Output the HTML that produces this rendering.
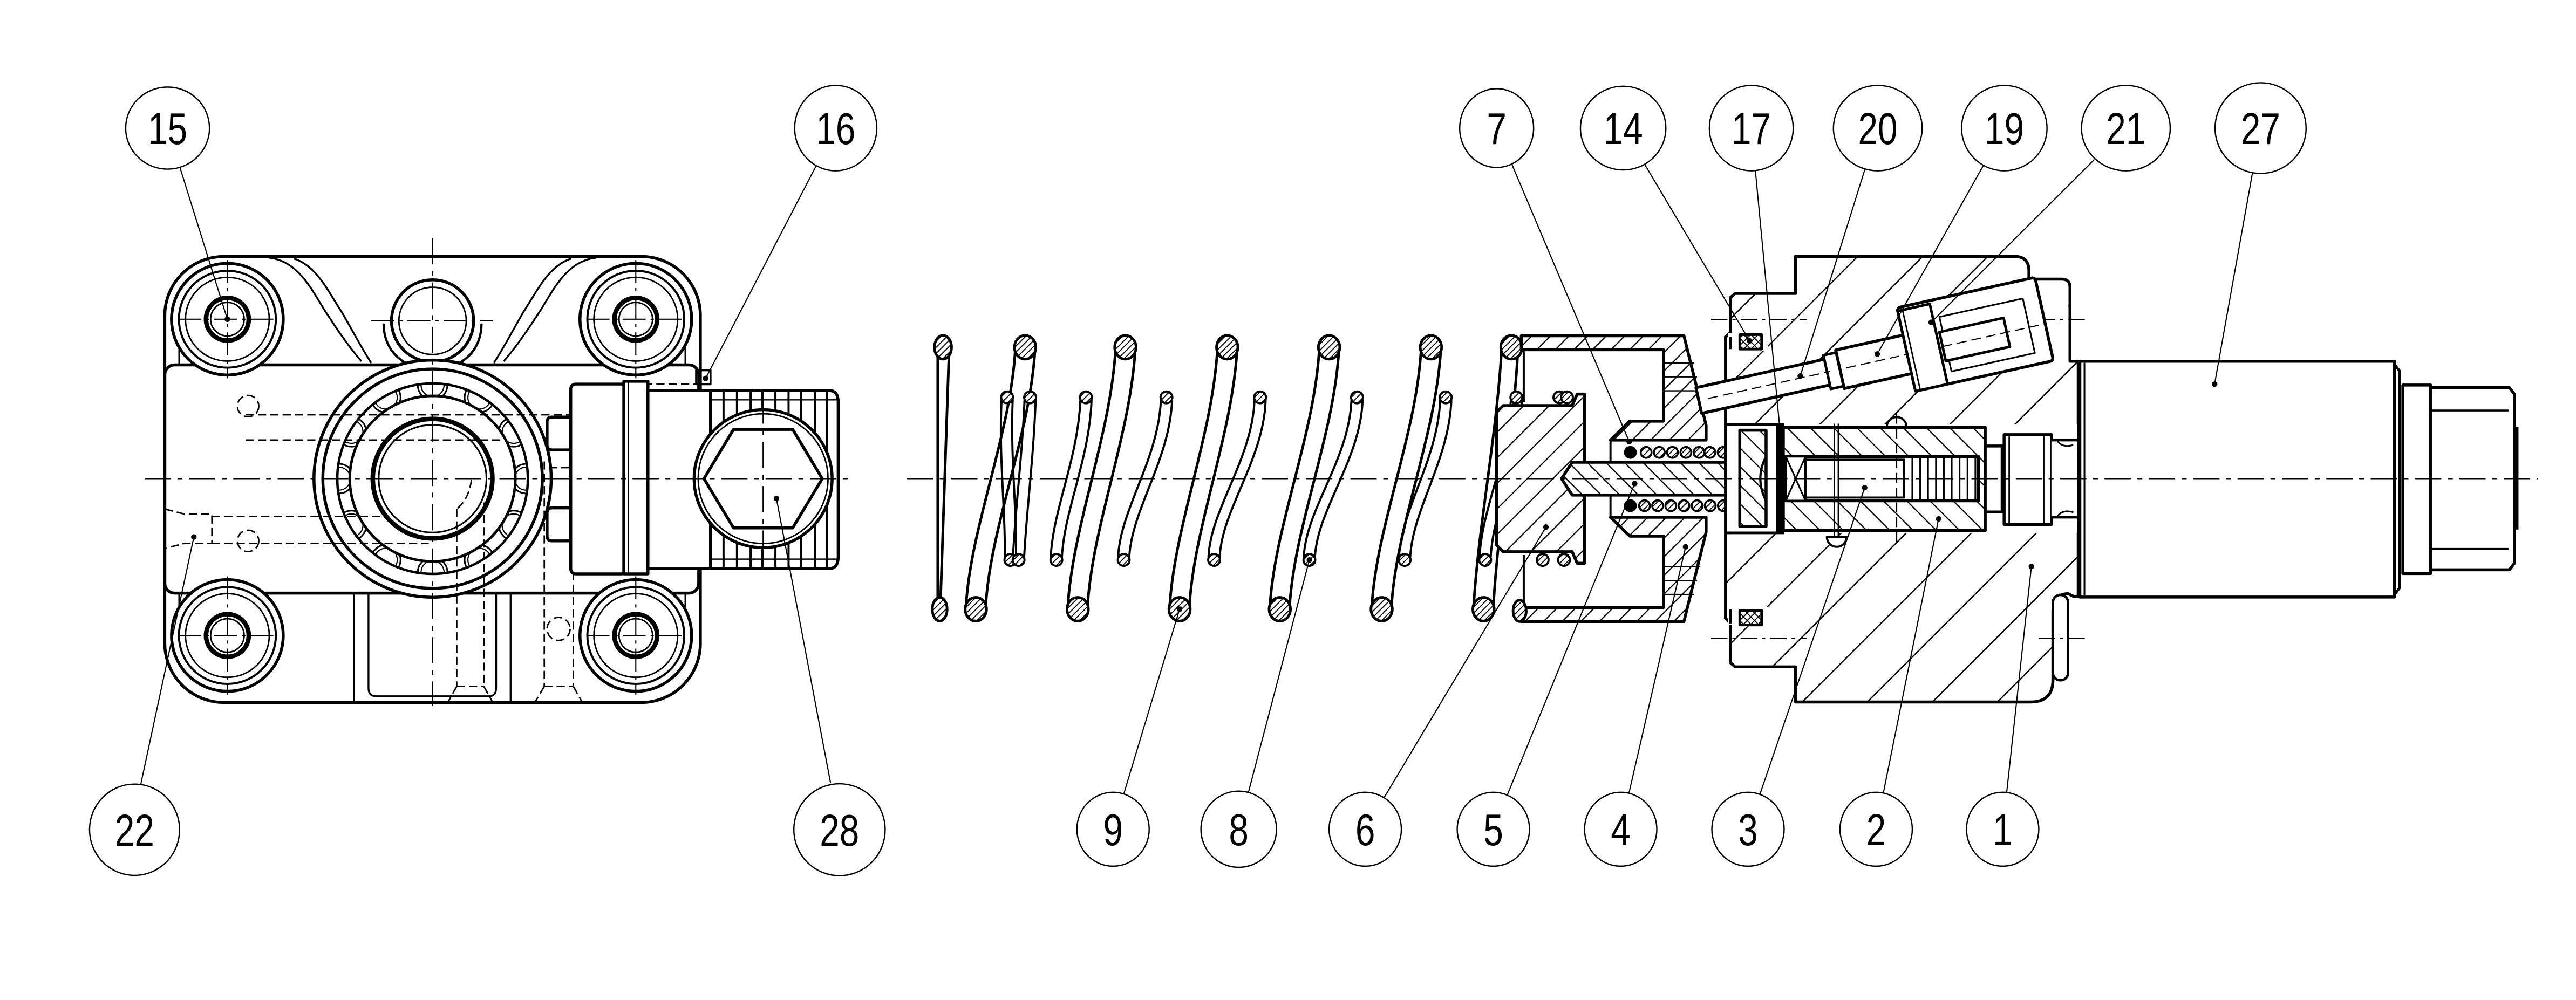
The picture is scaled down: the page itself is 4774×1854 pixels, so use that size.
<!DOCTYPE html>
<html><head><meta charset="utf-8"><title>Valve exploded view</title>
<style>
html,body{margin:0;padding:0;background:#fff;width:4774px;height:1854px;overflow:hidden}
svg{display:block}
text{font-family:"Liberation Sans",sans-serif;font-size:27px;fill:#000}
</style></head>
<body>
<svg xmlns="http://www.w3.org/2000/svg" width="4774" height="1854" viewBox="0 0 1568 609" preserveAspectRatio="none">
<defs>
<pattern id="hb" patternUnits="userSpaceOnUse" width="28" height="28" patternTransform="rotate(-45)"><rect width="28" height="28" fill="#fff"/><line x1="0" y1="14" x2="28" y2="14" stroke="#000" stroke-width="0.8"/></pattern>
<pattern id="hf" patternUnits="userSpaceOnUse" width="8" height="8" patternTransform="rotate(-45)"><rect width="8" height="8" fill="#fff"/><line x1="0" y1="4" x2="8" y2="4" stroke="#000" stroke-width="0.75"/></pattern>
<pattern id="hf12" patternUnits="userSpaceOnUse" width="11" height="11" patternTransform="rotate(-45)"><rect width="11" height="11" fill="#fff"/><line x1="0" y1="5.5" x2="11" y2="5.5" stroke="#000" stroke-width="0.75"/></pattern>
<pattern id="hr" patternUnits="userSpaceOnUse" width="8" height="8" patternTransform="rotate(45)"><rect width="8" height="8" fill="#fff"/><line x1="0" y1="4" x2="8" y2="4" stroke="#000" stroke-width="0.75"/></pattern>
<pattern id="hr12" patternUnits="userSpaceOnUse" width="10" height="10" patternTransform="rotate(45)"><rect width="10" height="10" fill="#fff"/><line x1="0" y1="5" x2="10" y2="5" stroke="#000" stroke-width="0.75"/></pattern>
<pattern id="hc" patternUnits="userSpaceOnUse" width="2.6" height="2.6" patternTransform="rotate(-45)"><rect width="2.6" height="2.6" fill="#fff"/><line x1="0" y1="1.3" x2="2.6" y2="1.3" stroke="#000" stroke-width="0.6"/></pattern>
<pattern id="hx" patternUnits="userSpaceOnUse" width="3.2" height="3.2" patternTransform="rotate(45)"><rect width="3.2" height="3.2" fill="#fff"/><path d="M0,1.6H3.2M1.6,0V3.2" stroke="#000" stroke-width="0.6"/></pattern>
<clipPath id="ringclip"><circle cx="0" cy="0" r="58"/></clipPath>
</defs>

<!-- ================= LEFT FRONT VIEW ================= -->
<g fill="none" stroke="#000" stroke-linejoin="round">
<rect x="100.3" y="156.2" width="326" height="271.6" rx="36" stroke-width="1.8" fill="#fff"/>
<path stroke-width="1.1" d="M164,157 C181,159 189,175 197,188 C206,202 213,212 220,220 M179,157.5 C193,162 200,178 208,190 C215,202 220,212 226,221 M362.6,157 C345.6,159 337.6,175 329.6,188 C320.6,202 313.6,212 306.6,220 M347.6,157.5 C333.6,162 326.6,178 318.6,190 C311.6,202 306.6,212 300.6,221"/>
<rect x="100.3" y="222.2" width="325" height="139" rx="6" stroke-width="1.8"/>
<path stroke-width="1.1" d="M215.5,361.2V427.6M310.8,361.2V427.6M224.3,361.2V419Q224.3,424 229,424H297.5Q302,424 302,419V361.2"/>
<path stroke-width="1.1" d="M109.1,188V222M109.1,361V398M417.2,188V222M417.2,361V398"/>

<!-- top centre boss -->
<path d="M233.5,197 C233.5,214 246,225 263.3,225 C280.6,225 293.1,214 293.1,197" stroke-width="1.4" fill="#fff"/>
<circle cx="263.3" cy="195.4" r="25" stroke-width="1.8" fill="#fff"/>
<circle cx="263.3" cy="195.4" r="20.5" stroke-width="0.9"/>
<path d="M226,195.4H300" stroke-width="0.7" stroke-dasharray="14 3 2 3"/>

<!-- bolt bosses -->
<g transform="translate(138.4,194.4)"><circle r="34" fill="#fff" stroke-width="1.8"/><circle r="29.5" stroke-width="1.3"/><circle r="25.5" stroke-width="0.9"/><circle r="13" stroke-width="2.8"/><circle r="10.2" stroke-width="0.9"/><path d="M-30,0H30M0,-36V36" stroke-width="0.7" stroke-dasharray="14 3 2 3"/></g>
<g transform="translate(387,194.4)"><circle r="34" fill="#fff" stroke-width="1.8"/><circle r="29.5" stroke-width="1.3"/><circle r="25.5" stroke-width="0.9"/><circle r="13" stroke-width="2.8"/><circle r="10.2" stroke-width="0.9"/><path d="M-30,0H30M0,-36V36" stroke-width="0.7" stroke-dasharray="14 3 2 3"/></g>
<g transform="translate(138.4,387)"><circle r="34" fill="#fff" stroke-width="1.8"/><circle r="29.5" stroke-width="1.3"/><circle r="25.5" stroke-width="0.9"/><circle r="13" stroke-width="2.8"/><circle r="10.2" stroke-width="0.9"/><path d="M-30,0H30M0,-36V36" stroke-width="0.7" stroke-dasharray="14 3 2 3"/></g>
<g transform="translate(387,387)"><circle r="34" fill="#fff" stroke-width="1.8"/><circle r="29.5" stroke-width="1.3"/><circle r="25.5" stroke-width="0.9"/><circle r="13" stroke-width="2.8"/><circle r="10.2" stroke-width="0.9"/><path d="M-30,0H30M0,-36V36" stroke-width="0.7" stroke-dasharray="14 3 2 3"/></g>

<!-- central ring -->
<g transform="translate(263.3,291.5)">
<circle r="72.2" fill="#fff" stroke-width="1.8"/>
<circle r="66.8" stroke-width="1.8"/>
<g clip-path="url(#ringclip)" stroke-width="1">
<circle cx="57" cy="0" r="9"/><circle cx="49.4" cy="28.5" r="9"/><circle cx="28.5" cy="49.4" r="9"/><circle cx="0" cy="57" r="9"/><circle cx="-28.5" cy="49.4" r="9"/><circle cx="-49.4" cy="28.5" r="9"/><circle cx="-57" cy="0" r="9"/><circle cx="-49.4" cy="-28.5" r="9"/><circle cx="-28.5" cy="-49.4" r="9"/><circle cx="0" cy="-57" r="9"/><circle cx="28.5" cy="-49.4" r="9"/><circle cx="49.4" cy="-28.5" r="9"/>
<circle cx="57" cy="0" r="7" stroke-width="0.7"/><circle cx="49.4" cy="28.5" r="7" stroke-width="0.7"/><circle cx="28.5" cy="49.4" r="7" stroke-width="0.7"/><circle cx="0" cy="57" r="7" stroke-width="0.7"/><circle cx="-28.5" cy="49.4" r="7" stroke-width="0.7"/><circle cx="-49.4" cy="28.5" r="7" stroke-width="0.7"/><circle cx="-57" cy="0" r="7" stroke-width="0.7"/><circle cx="-49.4" cy="-28.5" r="7" stroke-width="0.7"/><circle cx="-28.5" cy="-49.4" r="7" stroke-width="0.7"/><circle cx="0" cy="-57" r="7" stroke-width="0.7"/><circle cx="28.5" cy="-49.4" r="7" stroke-width="0.7"/><circle cx="49.4" cy="-28.5" r="7" stroke-width="0.7"/>
</g>
<circle r="58" stroke-width="1.5"/>
<circle r="50.4" fill="#fff" stroke-width="1.6"/>
<circle r="36.4" fill="#fff" stroke-width="2.8"/>
<circle r="32.8" stroke-width="1"/>
</g>
<path d="M263.3,145V430" stroke-width="0.7" stroke-dasharray="16 4 3 4"/>

<!-- hidden lines -->
<g stroke-width="0.9" stroke-dasharray="5 2.5">
<path d="M149.5,252.6H347M149.5,268H305M129,314.5H237M129,331H261"/>
<circle cx="151" cy="247.3" r="6.5"/><circle cx="151" cy="329.4" r="6.5"/><circle cx="340" cy="383" r="7"/>
<path d="M100.3,310 L112,313 H129 V331 H112 L100.3,334"/>
<path d="M287,292 C286,300 283,306 278,310"/>
<path d="M278,310V418M294.5,306V418M331.3,281V418M349,281V418M278,418H294.5M331.3,418H349M278,418L273,427M294.5,418L299.5,427M331.3,418L326,427M349,418L354,427"/>
<rect x="369.5" y="234" width="55.5" height="53.5"/>
<path d="M334,284.8H372"/>
</g>

<!-- connector on left view -->
<path stroke-width="1.8" fill="#fff" d="M347.4,254H336Q333,254 333,257V271Q333,274 336,274H347.4Z M347.4,309.3H336Q333,309.3 333,312.3V326.4Q333,329.4 336,329.4H347.4Z"/>
<rect x="347.4" y="233.9" width="33.8" height="115.6" rx="3" fill="#fff" stroke-width="1.8"/>
<rect x="379.7" y="232.2" width="14.7" height="117.3" fill="#fff" stroke-width="1.8"/>
<path d="M382.5,232.2V349.5" stroke-width="0.9"/>
<rect x="394.4" y="237.9" width="38.1" height="108.3" fill="#fff" stroke-width="1.8"/>
<path d="M432.5,237.9H505Q510.2,237.9 510.2,245V339Q510.2,346.2 505,346.2H432.5Z" fill="#fff" stroke-width="1.8"/>
<path stroke-width="1.3" d="M440.4,237.9V346.2M448.6,237.9V346.2M456.9,237.9V346.2M464.1,237.9V346.2M472,237.9V346.2M480,237.9V346.2M487.6,237.9V346.2M496.1,237.9V346.2M503.4,237.9V346.2"/>
<path stroke-width="0.8" d="M432.5,243.5H510M432.5,340.5H510"/>
<circle cx="464.5" cy="291.5" r="42" fill="#fff" stroke-width="1.8"/>
<circle cx="464.5" cy="291.5" r="39.5" stroke-width="0.9"/>
<polygon points="428.5,291.5 446.5,261.5 482.5,261.5 500.5,291.5 482.5,321.5 446.5,321.5" stroke-width="1.8"/>
<path d="M464.5,242V341" stroke-width="0.7" stroke-dasharray="16 4 3 4"/>
<rect x="423.7" y="225.5" width="8.8" height="8.5" stroke-width="1.2"/>
</g>

<!-- ================= SPRINGS ================= -->
<g fill="none" stroke="#000" stroke-width="1.6" stroke-linecap="round">
<path d="M570.8,214L570.8,368M577.7,214L572.4,368"/>
<path d="M618,213C615,265 591,320 588,369M630,213C627,265 603,320 600,369"/>
<path d="M679,213C676,265 653,320 650,369M691,213C688,265 665,320 662,369"/>
<path d="M741,213C738,265 715,320 712,369M753,213C750,265 727,320 724,369"/>
<path d="M803,213C800,265 776,320 773,369M815,213C812,265 788,320 785,369"/>
<path d="M865,213C862,265 838,320 835,369M877,213C874,265 850,320 847,369"/>
<path d="M914,213C911,265 900,320 897,369M924,213C921,265 912,320 909,369"/>
</g>
<g fill="none" stroke="#000" stroke-width="1.3" stroke-linecap="round">
<path d="M609.6,244C608,280 612,310 611.6,339M616.4,244C615,280 619,310 618.4,339"/>
<path d="M623.6,244C622,280 618,310 616.6,339M630.4,244C629,280 625,310 623.4,339"/>
<path d="M657.6,244C656,280 641,310 639.6,339M664.4,244C663,280 648,310 646.4,339"/>
<path d="M706.6,244C705,280 682,310 680.6,339M713.4,244C712,280 689,310 687.4,339"/>
<path d="M763.6,244C762,280 737,310 735.6,339M770.4,244C769,280 744,310 742.4,339"/>
<path d="M822.6,244C821,280 795,310 793.6,339M829.4,244C828,280 802,310 800.4,339"/>
<path d="M876.6,244C875,280 853,310 851.6,339M883.4,244C882,280 860,310 858.4,339"/>
<path d="M919.6,244C918,280 902,310 900.6,339M926.4,244C925,280 909,310 907.4,339"/>
</g>
<g stroke="#000" stroke-width="1.6" fill="url(#hc)">
<ellipse cx="574" cy="211.5" rx="5.2" ry="7.2"/><ellipse cx="624" cy="211.5" rx="6.5" ry="7.2"/><ellipse cx="685" cy="211.5" rx="6.5" ry="7.2"/><ellipse cx="747" cy="211.5" rx="6.5" ry="7.2"/><ellipse cx="809" cy="211.5" rx="6.5" ry="7.2"/><ellipse cx="871" cy="211.5" rx="6.5" ry="7.2"/><ellipse cx="920" cy="211.5" rx="6.5" ry="7.2"/>
<ellipse cx="572" cy="371" rx="4.5" ry="7.2"/><ellipse cx="594" cy="371" rx="6.5" ry="7.2"/><ellipse cx="656" cy="371" rx="6.5" ry="7.2"/><ellipse cx="718" cy="371" rx="6.5" ry="7.2"/><ellipse cx="779" cy="371" rx="6.5" ry="7.2"/><ellipse cx="841" cy="371" rx="6.5" ry="7.2"/><ellipse cx="903" cy="371" rx="6.5" ry="7.2"/>
</g>
<g stroke="#000" stroke-width="1.3" fill="url(#hc)">
<circle cx="613" cy="242" r="3.6"/><circle cx="627" cy="242" r="3.6"/><circle cx="661" cy="242" r="3.6"/><circle cx="710" cy="242" r="3.6"/><circle cx="767" cy="242" r="3.6"/><circle cx="826" cy="242" r="3.6"/><circle cx="880" cy="242" r="3.6"/><circle cx="923" cy="242" r="3.6"/>
<circle cx="615" cy="341" r="3.6"/><circle cx="620" cy="341" r="3.6"/><circle cx="643" cy="341" r="3.6"/><circle cx="684" cy="341" r="3.6"/><circle cx="739" cy="341" r="3.6"/><circle cx="797" cy="341" r="3.6"/><circle cx="855" cy="341" r="3.6"/><circle cx="904" cy="341" r="3.6"/>
</g>

<!-- ================= PLUG 6 / CUP 4 / PIN 5 / SPRING 7 ================= -->
<g stroke="#000" stroke-linejoin="round">
<polygon points="911,251 915,247 957,247 960,240 964.5,240 964.5,343 960,343 957,336 915,336 911,332" fill="url(#hf12)" stroke-width="1.8"/>
<path d="M964.5,282L955,291.5L964.5,301" fill="#fff" stroke-width="1.4"/>
<polygon points="926,204.5 1025,204.5 1038.5,259 1038.5,268 980.3,268 992,256.5 1012.5,256.5 1012.5,213 926,213" fill="url(#hf)" stroke-width="1.8"/>
<polygon points="926,378.5 1025,378.5 1038.5,324 1038.5,315 980.3,315 992,326.5 1012.5,326.5 1012.5,370 926,370" fill="url(#hf)" stroke-width="1.8"/>
<path d="M980.3,268V281.5M980.3,301.5V315M927.5,213V245M927.5,338V370" fill="none" stroke-width="1.3"/>
<path d="M1012.5,221H1031M1012.5,229.5H1033M1012.5,238H1035M1012.5,345H1035M1012.5,353.5H1033M1012.5,362H1031" fill="none" stroke-width="0.8"/>
<polygon points="950.5,291.5 957,281.5 1059,281.5 1059,301.5 957,301.5" fill="url(#hr)" stroke-width="1.8"/>
<g fill="url(#hc)" stroke-width="1.2">
<circle cx="992.4" cy="275.5" r="3.3" fill="#000"/><circle cx="1002" cy="275.5" r="3.3"/><circle cx="1010" cy="275.5" r="3.3"/><circle cx="1018" cy="275.5" r="3.3"/><circle cx="1026.2" cy="275.5" r="3.3"/><circle cx="1034.2" cy="275.5" r="3.3"/><circle cx="1040.8" cy="275.5" r="3.3"/><circle cx="1048.9" cy="275.5" r="3.3"/><circle cx="1056.2" cy="275.5" r="3.3"/>
<circle cx="992.4" cy="308" r="3.3" fill="#000"/><circle cx="1001" cy="308" r="3.3"/><circle cx="1009" cy="308" r="3.3"/><circle cx="1017" cy="308" r="3.3"/><circle cx="1025" cy="308" r="3.3"/><circle cx="1033" cy="308" r="3.3"/><circle cx="1041" cy="308" r="3.3"/><circle cx="1049" cy="308" r="3.3"/><circle cx="1056" cy="308" r="3.3"/>
</g>
<g fill="url(#hc)" stroke-width="1.3">
<circle cx="949.2" cy="242" r="3.6"/><circle cx="953.8" cy="242" r="3.6"/><circle cx="939" cy="341" r="3.6"/><circle cx="952" cy="341" r="3.6"/>
<ellipse cx="925" cy="372" rx="4" ry="6.5" stroke-width="1.6"/>
</g>
</g>

<!-- ================= BODY 1 ================= -->
<g stroke="#000" stroke-linejoin="round">
<path d="M1092.9,156.1H1226Q1235,156.1 1235,165V170H1255Q1260,170 1260,175V220H1265V363.3H1262.4L1258.8,361.5Q1249.6,362 1249.6,372V414Q1249.6,427.5 1236,427.5H1092.9V406.1H1056.2L1053.3,403.6V379.7L1050.3,376.5V205.1L1053.3,202.6V181.2L1056.2,178.7H1092.9Z" fill="url(#hb)" stroke-width="1.8"/>
<rect x="1051.2" y="258.5" width="213" height="66" fill="#fff" stroke="none"/>
<path d="M1050.3,258.5H1086M1050.3,324.5H1086" fill="none" stroke-width="1.6"/>
<path d="M1236,171H1255Q1259,171 1259,175V221H1236Z" fill="#fff" stroke="none"/>
<rect x="1249.6" y="362.3" width="9.2" height="52" rx="4.5" fill="#fff" stroke-width="1.5"/>
<!-- O-rings 14 -->
<rect x="1052" y="202.8" width="24" height="11" fill="#fff" stroke="none"/>
<rect x="1059" y="203.8" width="13.3" height="8.8" fill="url(#hx)" stroke-width="1.6"/>
<rect x="1052" y="369.5" width="24" height="11" fill="#fff" stroke="none"/>
<rect x="1059" y="371.8" width="13.3" height="8.8" fill="url(#hx)" stroke-width="1.6"/>
<path d="M1053.3,205.1V212.6M1053.3,371V379.7" stroke-width="1.4" fill="none"/>
<!-- washer, seat, ring 17 -->
<rect x="1059" y="262" width="16" height="58.5" fill="url(#hr)" stroke-width="1.8"/>
<path d="M1075,278Q1068,291.5 1075,305" fill="none" stroke-width="1.4"/>
<rect x="1081" y="258.2" width="4.4" height="67" fill="#000" stroke="none"/>
<!-- sleeve 3 -->
<path fill-rule="evenodd" d="M1085.5,260.3H1208.4V323.1H1085.5Z M1087,278H1204.3V305H1087Z" fill="url(#hr12)" stroke-width="1.8"/>
<rect x="1087" y="278" width="12" height="27" fill="#fff" stroke-width="1.3"/>
<path d="M1087,278L1099,305M1099,278L1087,305" stroke-width="1" fill="none"/>
<rect x="1099" y="280" width="60" height="23" fill="#fff" stroke-width="1.3"/>
<path d="M1164,278V305M1168.8,278V305M1173.6,278V305M1178.4,278V305M1183.2,278V305M1188,278V305M1192.8,278V305M1197.6,278V305M1202.4,278V305" stroke-width="1" fill="none"/>
<path d="M1116.5,258V327M1119,258V327" stroke-width="0.9" fill="none"/>
<path d="M1112,327A6,6 0 0 0 1124,327Z" fill="#fff" stroke-width="1.3"/>
<path d="M1148.5,260A6,6 0 0 1 1160.5,260Z" fill="#fff" stroke-width="1.3"/>
<path d="M1154.5,252V330" stroke-width="0.7" stroke-dasharray="6 3" fill="none"/>
<!-- fitting -->
<rect x="1208.4" y="271.6" width="10.3" height="40.2" fill="#fff" stroke-width="1.8"/>
<rect x="1219.9" y="264.7" width="28.8" height="54.7" fill="#fff" stroke-width="1.8"/>
<path d="M1223,264.7V319.4M1244,264.7V319.4" stroke-width="0.9" fill="none"/>
<path d="M1248.7,268H1265V315H1248.7" fill="#fff" stroke-width="1.6"/>
<path d="M1252,268Q1255,273 1262,271M1252,315Q1255,310 1262,312" fill="none" stroke-width="1"/>
<!-- boss centerlines -->
<path d="M1041.5,194.5H1100M1041.5,388.8H1100M1241,194.5H1270M1241,388.8H1270" stroke-width="0.7" stroke-dasharray="10 3 2 3" fill="none"/>
</g>

<!-- angled plug 20 / 19 / 21 -->
<g stroke="#000" stroke-linejoin="round" transform="translate(1036,243.5) rotate(-12.5)">
<rect x="-2" y="-8" width="84" height="16" fill="#fff" stroke-width="1.8"/>
<rect x="78" y="-10.5" width="8" height="21" fill="#fff" stroke-width="1.6"/>
<rect x="86" y="-12" width="44" height="24" fill="#fff" stroke-width="1.8"/>
<rect x="128" y="-29" width="86" height="52" rx="2" fill="#fff" stroke-width="1.8"/>
<rect x="128" y="-27" width="20" height="50" fill="#fff" stroke-width="1.6"/>
<path d="M131,-27V23" stroke-width="0.9" fill="none"/>
<rect x="152" y="-18" width="52" height="34" fill="none" stroke-width="1"/>
<rect x="150" y="-9" width="40" height="18" fill="#fff" stroke-width="1.6"/>
<path d="M4,0H80M90,0H128M150,0H215" stroke-width="0.7" stroke-dasharray="6 3" fill="none"/>
</g>

<!-- ================= SOLENOID 27 ================= -->
<g stroke="#000" stroke-linejoin="round" fill="#fff">
<rect x="1266" y="220" width="191.5" height="143.6" stroke-width="1.8"/>
<path d="M1268.8,221V362.6" stroke-width="1" fill="none"/>
<path d="M1457.5,222L1460.7,226V358L1457.5,362" stroke-width="1.6" fill="none"/>
<rect x="1462.6" y="234.5" width="16.9" height="114.8" stroke-width="1.8"/>
<path d="M1479.5,236H1527.5L1530.5,240V343L1527.5,347H1479.5Z" stroke-width="1.8"/>
<path d="M1480,250H1527M1480,334.3H1527" stroke-width="1.2" fill="none"/>
<path d="M1531.8,260V322.5" stroke-width="2.4" fill="none"/>
</g>

<!-- centerlines -->
<g stroke="#000" stroke-width="0.7" stroke-dasharray="16 4 3 4" fill="none">
<path d="M88,291.5H519"/>
<path d="M552,291.5H1545"/>
</g>

<!-- ================= LEADERS ================= -->
<g stroke="#000" stroke-width="0.7" fill="none">
<path d="M109.5,101.9L138.4,194.4"/>
<path d="M497.2,100.2L429.5,230.5"/>
<path d="M919.9,99.2L991.7,269"/>
<path d="M1001,99.9L1065,207.6"/>
<path d="M1068.5,103.9L1083.2,259.1"/>
<path d="M1135.1,103.3L1095.8,229"/>
<path d="M1207.3,100.7L1142.7,215.6"/>
<path d="M1274.9,97.1L1175.5,196.3"/>
<path d="M1371.1,105.1L1348,234"/>
<path d="M85.6,478L118,327"/>
<path d="M505.6,477L472.6,303.6"/>
<path d="M683.9,483.9L718,371"/>
<path d="M759.6,483.7L797,341"/>
<path d="M842.3,486.1L941,321"/>
<path d="M917.3,484.6L995,294.5"/>
<path d="M991.4,483.6L1026,333"/>
<path d="M1071.1,484.2L1135,297"/>
<path d="M1146.3,483.4L1180,316"/>
<path d="M1221.4,483.1L1236.5,345"/>
</g>
<g fill="#000">
<circle cx="138.4" cy="194.4" r="1.7"/><circle cx="429.5" cy="230.5" r="1.7"/><circle cx="991.7" cy="269" r="1.7"/><circle cx="1065" cy="207.6" r="1.7"/><circle cx="1083.2" cy="259.1" r="1.7"/><circle cx="1095.8" cy="229" r="1.7"/><circle cx="1142.7" cy="215.6" r="1.7"/><circle cx="1175.5" cy="196.3" r="1.7"/><circle cx="1348" cy="234" r="1.7"/><circle cx="118" cy="327" r="1.7"/><circle cx="472.6" cy="303.6" r="1.7"/><circle cx="718" cy="371" r="1.7"/><circle cx="797" cy="341" r="1.7"/><circle cx="941" cy="321" r="1.7"/><circle cx="995" cy="294.5" r="1.7"/><circle cx="1026" cy="333" r="1.7"/><circle cx="1135" cy="297" r="1.7"/><circle cx="1180" cy="316" r="1.7"/><circle cx="1236.5" cy="345" r="1.7"/>
</g>

<!-- ================= LABEL BUBBLES ================= -->
<g fill="#fff" stroke="#000" stroke-width="0.8">
<ellipse cx="102" cy="78" rx="25.5" ry="25"/>
<ellipse cx="508.7" cy="78" rx="25" ry="26"/>
<ellipse cx="911" cy="78" rx="22.5" ry="24"/>
<ellipse cx="988" cy="78" rx="26" ry="25.5"/>
<ellipse cx="1066" cy="78" rx="25.5" ry="26"/>
<ellipse cx="1143" cy="78" rx="27" ry="26"/>
<ellipse cx="1220" cy="78" rx="26" ry="26"/>
<ellipse cx="1294" cy="78" rx="27" ry="26"/>
<ellipse cx="1376" cy="78" rx="27.7" ry="27.6"/>
<ellipse cx="81.9" cy="505.3" rx="27.4" ry="27.8"/>
<ellipse cx="511" cy="505.3" rx="27.8" ry="28"/>
<ellipse cx="677.5" cy="505" rx="22" ry="22.5"/>
<ellipse cx="754" cy="505" rx="23" ry="23.2"/>
<ellipse cx="831" cy="505" rx="22" ry="22.5"/>
<ellipse cx="909" cy="505" rx="22" ry="22.5"/>
<ellipse cx="986.5" cy="505" rx="22" ry="22.5"/>
<ellipse cx="1064" cy="505" rx="22" ry="22.5"/>
<ellipse cx="1142" cy="505" rx="22" ry="22.5"/>
<ellipse cx="1219" cy="505" rx="22" ry="22.5"/>
</g>
<g text-anchor="middle">
<text transform="translate(102,87.7) scale(0.8,1)">15</text>
<text transform="translate(508.7,87.7) scale(0.8,1)">16</text>
<text transform="translate(911,87.7) scale(0.8,1)">7</text>
<text transform="translate(988,87.7) scale(0.8,1)">14</text>
<text transform="translate(1066,87.7) scale(0.8,1)">17</text>
<text transform="translate(1143,87.7) scale(0.8,1)">20</text>
<text transform="translate(1220,87.7) scale(0.8,1)">19</text>
<text transform="translate(1294,87.7) scale(0.8,1)">21</text>
<text transform="translate(1376,87.7) scale(0.8,1)">27</text>
<text transform="translate(81.9,515) scale(0.8,1)">22</text>
<text transform="translate(511,515) scale(0.8,1)">28</text>
<text transform="translate(677.5,514.7) scale(0.8,1)">9</text>
<text transform="translate(754,514.7) scale(0.8,1)">8</text>
<text transform="translate(831,514.7) scale(0.8,1)">6</text>
<text transform="translate(909,514.7) scale(0.8,1)">5</text>
<text transform="translate(986.5,514.7) scale(0.8,1)">4</text>
<text transform="translate(1064,514.7) scale(0.8,1)">3</text>
<text transform="translate(1142,514.7) scale(0.8,1)">2</text>
<text transform="translate(1219,514.7) scale(0.8,1)">1</text>
</g>
</svg>
</body></html>
